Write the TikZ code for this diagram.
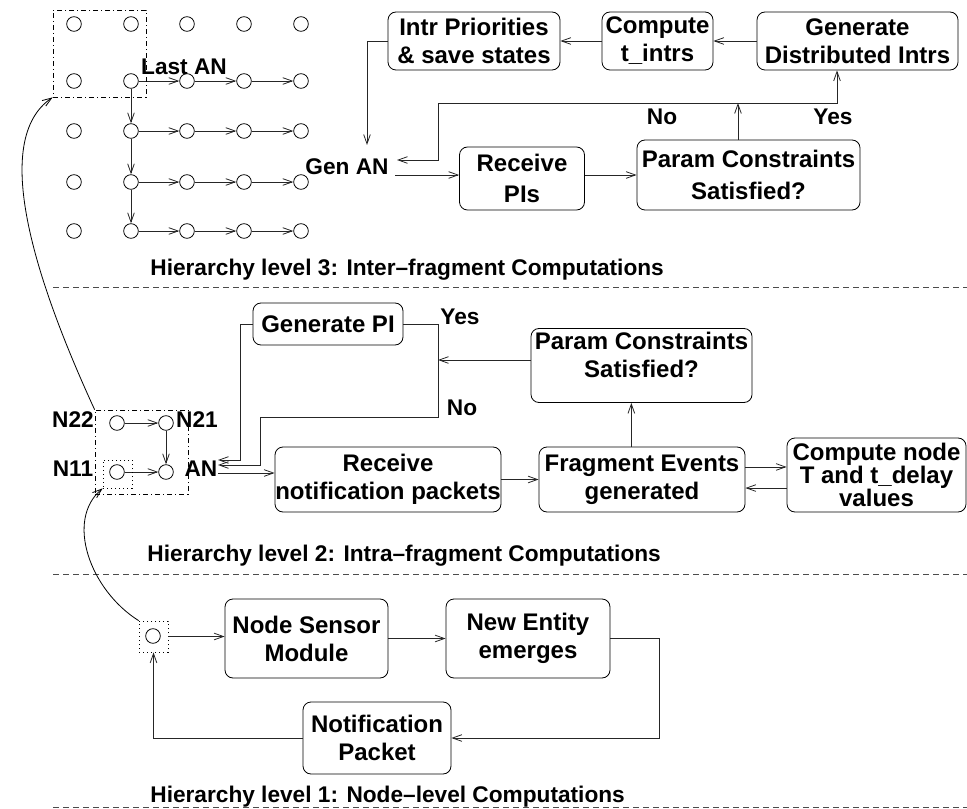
\documentclass[tikz,border=0pt]{standalone}
\usepackage{fontspec}
\setmainfont{Liberation Sans}
\usetikzlibrary{arrows.meta}
\begin{document}
\begin{tikzpicture}[x=0.75pt,y=-0.75pt,
  font=\fontsize{17}{20}\selectfont\bfseries,
  line width=0.6pt,
  >={Straight Barb[length=7pt,width=5pt]},
  blk/.style={draw, rounded corners=6pt, align=center, inner sep=0pt,
    font=\fontsize{18}{21}\selectfont\bfseries},
  lbl/.style={inner sep=0pt},
  dot/.style={circle, draw, minimum size=11pt, inner sep=0pt},
  sep/.style={dash pattern=on 4.5pt off 3pt, draw=black!70},
  link/.style={->, draw=black!85},
  dashdot/.style={draw, dash pattern=on 4pt off 2pt on 1pt off 2pt, inner sep=0pt},
  dotbox/.style={draw, dash pattern=on 1pt off 2pt, inner sep=0pt},
]
\useasboundingbox (0,0) rectangle (967,809);

% ---------- level 3: grid of nodes ----------
\foreach \c [count=\i] in {74,131,187,244,301}
  \foreach \r [count=\j] in {24,81,131,182,231}
    \node[dot] (g\i\j) at (\c,\r) {};
\foreach \j in {2,...,5} {
  \draw[link] (g2\j) -- (g3\j);
  \draw[link] (g3\j) -- (g4\j);
  \draw[link] (g4\j) -- (g5\j);
}
\draw[link] (g22) -- (g23);
\draw[link] (g23) -- (g24);
\draw[link] (g24) -- (g25);
\node[dashdot, minimum width=69.75pt, minimum height=65.25pt] (topbox) at (99.5,53.5) {};
\node[lbl] (lastan) at (184,67) {Last AN};

% ---------- level 3: flow ----------
\node[blk, minimum width=129pt, minimum height=43.5pt] (intr) at (474,41) {Intr Priorities\\\& save states};
\node[blk, minimum width=83.25pt, minimum height=43.5pt] (comp) at (657.5,41) {Compute\\t\_intrs};
\node[blk, minimum width=150.75pt, minimum height=43.5pt] (gdi) at (857.5,41) {Generate\\Distributed Intrs};
\node[lbl] (genan) at (347,167) {Gen AN};
\node[blk, minimum width=93.75pt, minimum height=47.25pt] (rpi) at (522,178.5) {Receive\\[2pt]PIs};
\node[blk, minimum width=167.25pt, minimum height=52.5pt] (pc3) at (748.5,175) {Param Constraints\\[3pt]Satisfied?};
\node[lbl] (no3) at (662,117) {No};
\node[lbl] (yes3) at (833,117) {Yes};

\coordinate (genin) at (367,145);
\coordinate (anin3) at (397,160);
\coordinate (anout3) at (395,175);
\coordinate (jn) at (438,103);
\coordinate (jy) at (837,103);

\draw[link] (gdi) -- (comp);
\draw[link] (comp) -- (intr);
\draw[link] (intr.west) -| (genin);
\draw[link] (anout3) -- (anout3 -| rpi.west);
\draw[link] (rpi.east |- anout3) -- (anout3 -| pc3.west);
\draw[link] ([xshift=-7.9pt]pc3.north) -- ([xshift=-7.9pt]pc3.north |- jn);
\draw[<->, draw=black!85] (anin3) -| (jn) -| (jy |- gdi.south);

\node[lbl, anchor=west] (t3) at (150,270) {Hierarchy level 3: Inter--fragment Computations};
\draw[sep] (53,287) -- (967,287);

% ---------- level 2 ----------
\node[dot] (n22) at (117,423) {};
\node[dot] (n21) at (166,423) {};
\node[dot] (n11) at (117,472) {};
\node[dot] (an) at (166,472) {};
\draw[link] (n22) -- (n21);
\draw[link] (n21) -- (an);
\draw[link] (n11) -- (an);
\node[lbl] (ln22) at (73,420) {N22};
\node[lbl] (ln21) at (197,420) {N21};
\node[lbl] (ln11) at (73,469) {N11};
\node[lbl] (lan) at (201,469) {AN};
\node[dashdot, minimum width=69.75pt, minimum height=63pt] (nbox) at (141.5,452) {};
\node[dotbox, minimum width=21.75pt, minimum height=21pt] (n11box) at (117.5,474) {};

\node[blk, minimum width=112.5pt, minimum height=31.5pt] (gpi) at (328,324) {Generate PI};
\node[blk, minimum width=165.75pt, minimum height=55.5pt] (pc2) at (641.5,365.5) {Param Constraints\\Satisfied?\\[-5pt]\mbox{}};
\node[blk, minimum width=169.5pt, minimum height=48.75pt] (rnp) at (388,479.5) {Receive\\notification packets};
\node[blk, minimum width=154.5pt, minimum height=48.75pt] (feg) at (642,479.5) {Fragment Events\\generated};
\node[blk, minimum width=134.25pt, minimum height=55.5pt, font=\fontsize{18}{17}\selectfont\bfseries] (cnt) at (876.5,475) {Compute node\\T and t\_delay\\values};
\node[lbl] (yes2) at (460,317) {Yes};
\node[lbl] (no2) at (462,408) {No};

\coordinate (j2) at (438,360);
\coordinate (j3) at (438,417);
\coordinate (ja) at (240,460);
\coordinate (jb) at (260,465);
\coordinate (ana) at (218,460);
\coordinate (anb) at (218,465);
\coordinate (anout2) at (218,473);

\draw[link] (pc2.west |- j2) -- (j2);
\draw[link] (gpi.east) -| (j3) -| (jb) -- (anb);
\draw[link] (gpi.west) -| (ja) -- (ana);
\draw[link] (anout2) -- (anout2 -| rnp.west);
\draw[link] (rnp.east) -- (feg.west);
\draw[link] ([xshift=-8pt]feg.north) -- ([xshift=-8pt]feg.north |- pc2.south);
\draw[link] ([yshift=9.4pt]feg.east) -- ([yshift=9.4pt]feg.east -| cnt.west);
\draw[link] ([yshift=-6.4pt]feg.east -| cnt.west) -- ([yshift=-6.4pt]feg.east);

\draw[link, draw=black] (nbox.north west) .. controls (35,280) and (-10,140) .. (topbox.south west);

\node[lbl, anchor=west] (t2) at (147,556) {Hierarchy level 2: Intra--fragment Computations};
\draw[sep] (53,574) -- (967,574);

% ---------- level 1 ----------
\node[dot] (s) at (153,636) {};
\node[dotbox, minimum width=21.75pt, minimum height=23.25pt] (sbox) at (153.5,636.5) {};
\node[blk, minimum width=122.25pt, minimum height=59.25pt] (nsm) at (306.5,638.5) {Node Sensor\\Module};
\node[blk, minimum width=123pt, minimum height=59.25pt] (nee) at (528,638.5) {New Entity\\emerges};
\node[blk, minimum width=111pt, minimum height=54pt] (np) at (377,738) {Notification\\Packet};
\coordinate (r1) at (659,738);

\draw[link] (sbox.east) -- (sbox.east -| nsm.west);
\draw[link] (nsm.east) -- (nee.west);
\draw[link] (nee.east) -| (r1) -- (np.east);
\draw[link] (np.west) -| (sbox.south);
\draw[link, draw=black] (sbox.north west) .. controls (90,590) and (65,520) .. (n11box.south west);

\node[lbl, anchor=west] (t1) at (150,797) {Hierarchy level 1: Node--level Computations};
\draw[sep] (53,807) -- (967,807);
\end{tikzpicture}
\end{document}
